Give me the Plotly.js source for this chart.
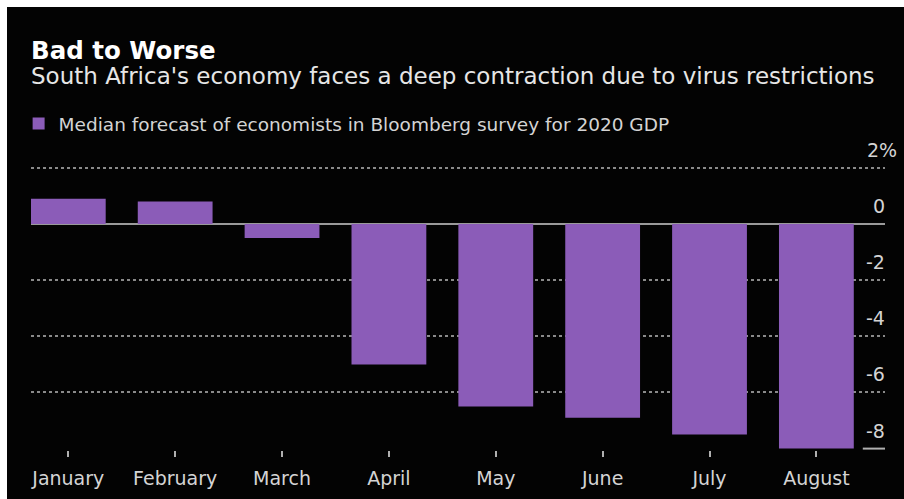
<!DOCTYPE html>
<html>
<head>
<meta charset="utf-8">
<script src="https://cdn.plot.ly/plotly-3.0.1.min.js"></script>
<style>
  html, body { margin: 0; padding: 0; background: #ffffff; }
  #chart { position: absolute; left: 7px; top: 7px; width: 897px; height: 492px; }
</style>
</head>
<body>
<div id="chart"></div>
<script>
// ---- data ----
const months = ["January", "February", "March", "April", "May", "June", "July", "August"];
const gdpForecast = [0.9, 0.8, -0.5, -5.0, -6.5, -6.9, -7.5, -8.0];
const yTickValues = [2, 0, -2, -4, -6, -8];
const yTickLabels = ["2%", "0", "-2", "-4", "-6", "-8"];
const seriesName = "Median forecast of economists in Bloomberg survey for 2020 GDP";
const titleText = "Bad to Worse";
const subtitleText = "South Africa's economy faces a deep contraction due to virus restrictions";

// ---- layout constants ----
const W = 897, H = 492;
const mL = 20, mR = 19, mT = 153, mB = 49;
const plotH = H - mT - mB;
const FONT = "DejaVu Sans, sans-serif";
const purple = "#8b5cb8";

function paperY(divY) { return 1 + (mT - divY) / plotH; }

const annotations = [];
annotations.push({
  xref: "paper", yref: "paper", x: 0, y: paperY(55.5), xanchor: "left", yanchor: "middle",
  align: "left",
  text: '<b><span style="font-size:24.5px;color:#ffffff">' + titleText + '</span></b><br>' +
        '<span style="font-size:23px">' + subtitleText + '</span>',
  showarrow: false, xshift: -2,
  font: { family: FONT, size: 19, color: "#e6e6e6" }
});
yTickValues.forEach((v, i) => {
  const lbl = yTickLabels[i];
  const hasPct = lbl.endsWith("%");
  annotations.push({
    xref: "paper", yref: "y", x: 1, y: v, xanchor: "right", yanchor: "middle",
    yshift: 18, xshift: hasPct ? 14 : 2,
    text: lbl, showarrow: false,
    font: { family: FONT, size: 19, color: "#d4d4d4" }
  });
});

const trace = {
  type: "bar",
  x: months,
  y: gdpForecast,
  name: seriesName,
  marker: { color: purple, line: { width: 0 } },
  showlegend: true,
  hoverinfo: "x+y"
};

const layout = {
  width: W, height: H,
  paper_bgcolor: "#030303",
  plot_bgcolor: "#030303",
  margin: { l: mL, r: mR, t: mT, b: mB, pad: 0 },
  bargap: 0.3,
  showlegend: true,
  legend: {
    orientation: "h",
    x: -0.0145, xanchor: "left",
    y: paperY(117), yanchor: "middle",
    bgcolor: "rgba(0,0,0,0)",
    font: { family: FONT, size: 18.5, color: "#d4d4d4" },
    itemclick: false
  },
  xaxis: {
    type: "category",
    range: [-0.349, 7.642],
    showgrid: false,
    zeroline: false,
    showline: false,
    ticks: "outside",
    ticklen: 6,
    tickwidth: 1.5,
    tickcolor: "#b0b0b0",
    ticklabelstandoff: 5,
    tickfont: { family: FONT, size: 19, color: "#d4d4d4" },
    fixedrange: true
  },
  yaxis: {
    range: [-8.05, 2.28],
    tickmode: "array",
    tickvals: [2, -2, -4, -6],
    showticklabels: false,
    ticks: "",
    showgrid: true,
    gridcolor: "#8a8a8a",
    gridwidth: 1.5,
    griddash: "dot",
    zeroline: true,
    zerolinecolor: "#9a9a9a",
    zerolinewidth: 1.5,
    showline: false,
    fixedrange: true
  },
  shapes: [{
    type: "line", xref: "paper", yref: "y",
    x0: 0.974, x1: 1, y0: -8, y1: -8,
    line: { color: "#b0b0b0", width: 2 }
  }],
  annotations: annotations
};

Plotly.newPlot("chart", [trace], layout, { displayModeBar: false, staticPlot: false });
</script>
</body>
</html>
